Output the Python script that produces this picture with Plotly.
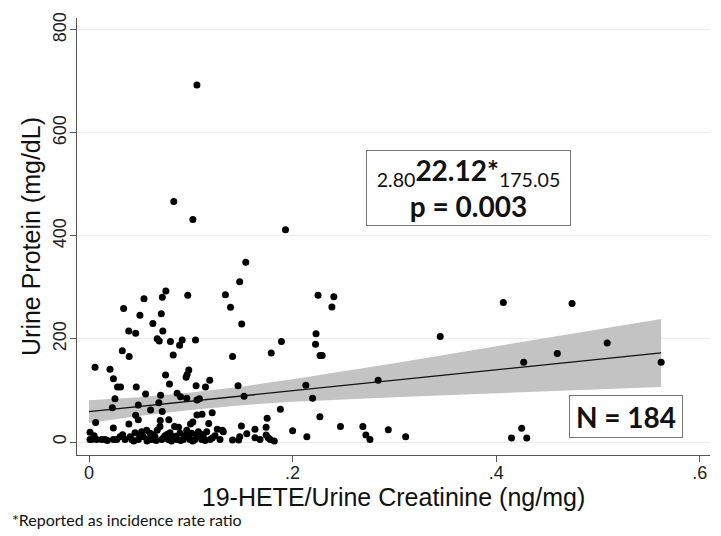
import plotly.graph_objects as go

# ---- data ----
hete_ratio = [
    0.106, 0.0833, 0.102, 0.193, 0.154, 0.148, 0.134, 0.139, 0.150, 0.225,
    0.2405, 0.2386, 0.223, 0.345, 0.407, 0.4745, 0.0755, 0.072, 0.097, 0.054,
    0.034, 0.05, 0.071, 0.0627, 0.039, 0.0458, 0.0725, 0.067, 0.069, 0.080,
    0.0915, 0.089, 0.1046, 0.141, 0.189, 0.179, 0.2225, 0.227, 0.229, 0.509,
    0.46, 0.427, 0.562, 0.213, 0.284, 0.0327, 0.0395, 0.0827, 0.0059, 0.0206,
    0.098, 0.0752, 0.024, 0.028, 0.031, 0.0464, 0.079, 0.0954, 0.0964, 0.1052,
    0.1144, 0.1186, 0.1464, 0.0255, 0.0229, 0.0556, 0.0484, 0.0866, 0.0899, 0.096,
    0.106, 0.1085, 0.0703, 0.0686, 0.0605, 0.0719, 0.0458, 0.0484, 0.1523, 0.121,
    0.111, 0.106, 0.2196, 0.188, 0.2268, 0.175, 0.0065, 0.07, 0.0784, 0.0392,
    0.102, 0.1176, 0.0997, 0.084, 0.088, 0.126, 0.131, 0.067, 0.174, 0.1497,
    0.155, 0.163, 0.163, 0.141, 0.147, 0.148, 0.176, 0.178, 0.182, 0.174,
    0.2, 0.214, 0.247, 0.269, 0.272, 0.276, 0.294, 0.311, 0.415, 0.425,
    0.430, 0.001, 0.001, 0.0026, 0.0075, 0.0125, 0.0157, 0.0239, 0.0239, 0.0272,
    0.0305, 0.0354, 0.0403, 0.042, 0.0452, 0.0485, 0.0517, 0.0534, 0.0566, 0.0583,
    0.06, 0.0616, 0.0648, 0.0697, 0.0714, 0.0747, 0.0779, 0.0796, 0.0822, 0.0861,
    0.0894, 0.0927, 0.096, 0.0992, 0.1009, 0.1041, 0.1074, 0.1107, 0.1123, 0.1156,
    0.1189, 0.1238, 0.1287, 0.1319, 0.168, 0.005, 0.018, 0.033, 0.044, 0.05,
    0.057, 0.063, 0.066, 0.073, 0.077, 0.081, 0.085, 0.09, 0.094, 0.098,
    0.102, 0.106, 0.11, 0.114, 0.121,
]
urine_protein = [
    693, 467, 432, 412, 349, 311, 286, 261.5, 229, 285,
    282, 262, 210, 205, 271, 269, 293, 281, 285, 278,
    259, 246, 249, 230, 215.5, 211, 215.5, 200.6, 196, 195,
    198, 188, 198, 166, 195, 173, 190, 168, 168, 192,
    172, 155, 155, 110, 120, 177, 166, 169, 145, 141,
    140, 130, 123, 107, 107, 107, 112.6, 125.6, 131, 109,
    107, 120, 109, 84, 66.6, 93, 72, 94.5, 88, 85,
    81.5, 84, 91, 76, 62, 59, 52, 43, 89, 57,
    54, 52.5, 85, 63.5, 49, 46, 38, 42, 43, 35,
    39, 36, 35, 30, 28.5, 25, 23, 23, 28.5, 31,
    16, 24.7, 8.4, 4, 4, 10, 8.4, 5, 2, 13.6,
    22, 10, 30, 30, 13.6, 5, 24, 10, 8, 26.6,
    8, 19, 5, 5, 5, 5, 5, 27, 5, 5,
    10, 5, 10, 5, 18, 5, 20, 10, 23, 5,
    17, 5, 10, 30, 5, 12, 5, 18, 6, 5,
    17, 5, 23, 5, 17, 5, 20, 5, 10, 20,
    5, 12, 5, 20, 5, 12, 3, 14, 2, 12,
    2, 14, 3, 8, 15, 2, 11, 3, 12, 14,
    2, 12, 15, 3, 8,
]

fit_x = [0.0, 0.562]
fit_y = [59, 173]

band_x = [0.0, 0.05, 0.1, 0.15, 0.2, 0.3, 0.4, 0.5, 0.562]
band_lower = [37, 51, 62, 71.5, 78, 87, 94, 102.5, 107]
band_upper = [81, 87, 96, 107.5, 122, 153, 186, 218.5, 239]

x_tickvals = [0, 0.2, 0.4, 0.6]
x_ticktext = ["0", ".2", ".4", ".6"]
y_tickvals = [0, 200, 400, 600, 800]

fig = go.Figure()

fig.add_trace(go.Scatter(
    x=band_x + band_x[::-1],
    y=band_upper + band_lower[::-1],
    fill="toself", fillcolor="#c3c3c3",
    line=dict(width=0), mode="lines", hoverinfo="skip", showlegend=False,
))
fig.add_trace(go.Scatter(
    x=hete_ratio, y=urine_protein, mode="markers",
    marker=dict(color="black", size=7), showlegend=False,
))
fig.add_trace(go.Scatter(
    x=fit_x, y=fit_y, mode="lines",
    line=dict(color="#111111", width=1.3), showlegend=False,
))

fam = "Liberation Sans, Arial, sans-serif"

# page body adds an 8px margin, so the figure is sized/offset to compensate
fig.update_layout(
    width=705, height=528,
    margin=dict(l=69, r=3, t=10, b=81),
    plot_bgcolor="white", paper_bgcolor="white",
    font=dict(family=fam, color="#222222"),
    xaxis=dict(
        range=[-0.0118, 0.61], tickvals=x_tickvals, ticktext=x_ticktext,
        automargin=False,
        showgrid=False, zeroline=False, showline=True, linecolor="#555555",
        linewidth=1, ticks="outside", ticklen=6, tickcolor="#555555",
        ticklabelstandoff=-5,
        tickfont=dict(size=18, family=fam, color="#222222"),
        title=dict(text="19-HETE/Urine Creatinine (ng/mg)", standoff=0,
                   font=dict(size=25, family=fam, color="#111111")),
    ),
    yaxis=dict(
        range=[-25.2, 823], tickvals=y_tickvals, tickangle=-90,
        automargin=False,
        showgrid=True, gridcolor="#ededed", gridwidth=1, zeroline=False,
        showline=True, linecolor="#555555", linewidth=1,
        ticks="outside", ticklen=6, tickcolor="#555555",
        ticklabelstandoff=-3,
        tickfont=dict(size=18, family=fam, color="#222222"),
        title=dict(text="Urine Protein (mg/dL)", standoff=2,
                   font=dict(size=25, family=fam, color="#111111")),
    ),
)

box_font = dict(family="Lato, Carlito, sans-serif", size=28, color="#111111")

fig.add_annotation(
    xref="paper", yref="paper", x=0.6185, y=0.611,
    xanchor="center", yanchor="middle", showarrow=False,
    text="<sub>2.80</sub><b>22.12*</b><sub>175.05</sub><br><b>p = 0.003</b>",
    font=box_font, align="center",
    bordercolor="#777777", borderwidth=1, borderpad=2, bgcolor="white",
    width=199, height=70,
)
fig.add_annotation(
    xref="paper", yref="paper", x=0.867, y=0.089,
    xanchor="center", yanchor="middle", showarrow=False,
    text="<b>N = 184</b>", font=box_font, align="center",
    bordercolor="#777777", borderwidth=1, borderpad=2, bgcolor="white",
    width=108, height=37,
)
fig.add_annotation(
    xref="paper", yref="paper", x=-0.106, y=-0.147,
    xanchor="left", yanchor="middle", showarrow=False,
    text="*Reported as incidence rate ratio",
    font=dict(family="Lato, Carlito, sans-serif", size=16, color="#111111"),
)

fig.write_html("out.html")
